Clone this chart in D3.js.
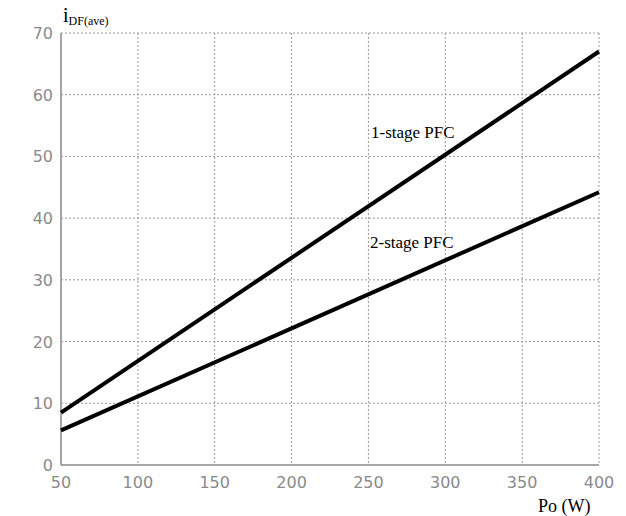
<!DOCTYPE html>
<html lang="en">
    <head>
        <meta charset="utf-8">
        <style>
            body { margin: 0; background: #fff; }
            .grid line { stroke: #999; stroke-dasharray: 2,2; stroke-width: 1; }
            .tick-label { fill: #8a8a8a; font: 16px "DejaVu Sans", sans-serif; }
            .serif { font-family: "Liberation Serif", "Times New Roman", serif; fill: #000; }
        </style>
        <script src="https://d3js.org/d3.v7.min.js"></script>
    </head>
    <body>
        <svg width="626" height="516"></svg>
        <script>
            // Data
            var po = [50, 400];
            var oneStage = [8.5, 67.0];
            var twoStage = [5.6, 44.2];
            var xTicks = [50, 100, 150, 200, 250, 300, 350, 400];
            var yTicks = [0, 10, 20, 30, 40, 50, 60, 70];

            var svg = d3.select("svg");
            var plotLeft = 61, plotRight = 599, plotTop = 33, plotBottom = 465;

            var x = d3.scaleLinear().domain([50, 400]).range([plotLeft, plotRight]);
            var y = d3.scaleLinear().domain([0, 70]).range([plotBottom, plotTop]);

            // Grid
            var grid = svg.append("g").attr("class", "grid");
            grid.selectAll("line.v")
                .data(xTicks.slice(1))
                .enter().append("line")
                .attr("x1", function(d) { return x(d); })
                .attr("x2", function(d) { return x(d); })
                .attr("y1", plotTop).attr("y2", plotBottom);
            grid.selectAll("line.h")
                .data(yTicks.slice(1))
                .enter().append("line")
                .attr("y1", function(d) { return y(d); })
                .attr("y2", function(d) { return y(d); })
                .attr("x1", plotLeft).attr("x2", plotRight);

            // Solid axes (left and bottom)
            svg.append("line").attr("x1", plotLeft).attr("x2", plotLeft).attr("y1", plotTop).attr("y2", plotBottom)
                .attr("stroke", "#888").attr("stroke-width", 1.5);
            svg.append("line").attr("x1", plotLeft).attr("x2", plotRight).attr("y1", plotBottom).attr("y2", plotBottom)
                .attr("stroke", "#888").attr("stroke-width", 1.5);

            // Tick labels
            svg.selectAll("text.xt")
                .data(xTicks)
                .enter().append("text")
                .attr("class", "tick-label")
                .attr("x", function(d) { return x(d); })
                .attr("y", plotBottom + 23)
                .attr("text-anchor", "middle")
                .text(function(d) { return d; });
            svg.selectAll("text.yt")
                .data(yTicks)
                .enter().append("text")
                .attr("class", "tick-label")
                .attr("x", plotLeft - 8)
                .attr("y", function(d) { return y(d) + 6; })
                .attr("text-anchor", "end")
                .text(function(d) { return d; });

            // Lines
            var line = d3.line()
                .x(function(d) { return x(d[0]); })
                .y(function(d) { return y(d[1]); });
            [oneStage, twoStage].forEach(function(s) {
                svg.append("path")
                    .datum(d3.zip(po, s))
                    .attr("d", line)
                    .attr("fill", "none")
                    .attr("stroke", "#000")
                    .attr("stroke-width", 4);
            });

            // Labels
            svg.append("text").attr("class", "serif")
                .attr("x", 371).attr("y", 138).attr("font-size", 17)
                .text("1-stage PFC");
            svg.append("text").attr("class", "serif")
                .attr("x", 370).attr("y", 248).attr("font-size", 17)
                .text("2-stage PFC");
            svg.append("text").attr("class", "serif")
                .attr("x", 538).attr("y", 512).attr("font-size", 18)
                .text("Po (W)");
            var yl = svg.append("text").attr("class", "serif")
                .attr("x", 63).attr("y", 22).attr("font-size", 20);
            yl.append("tspan").text("i");
            yl.append("tspan").attr("font-size", 12).attr("dy", 3).text("DF(ave)");
        </script>
    </body>
</html>
